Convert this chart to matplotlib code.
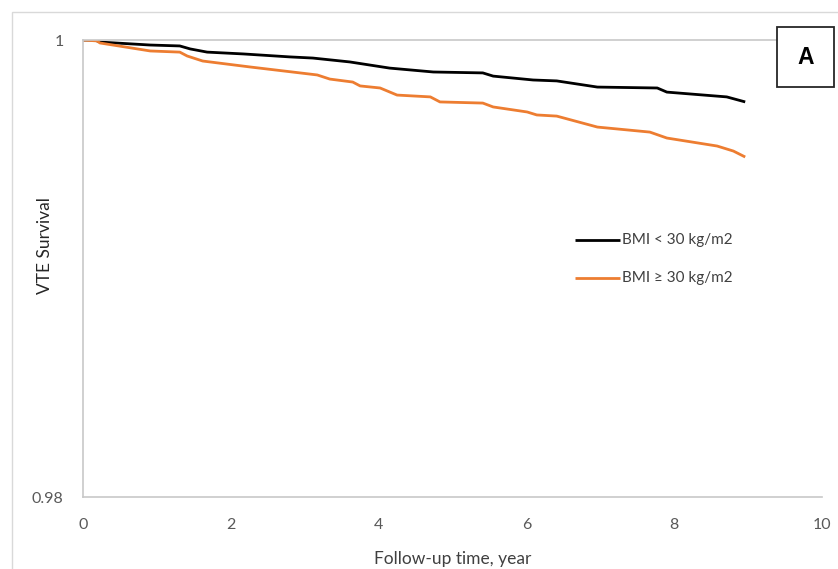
import matplotlib.pyplot as plt
from matplotlib.patches import Rectangle

plt.rcParams['font.family'] = ['Lato', 'DejaVu Sans']

# Kaplan-Meier curve points (years, survival probability)
years_low = [0.0, 0.16, 0.23, 0.91, 1.31, 1.45, 1.68, 2.17, 2.80, 3.11, 3.61,
             4.15, 4.29, 4.74, 5.41, 5.55, 6.09, 6.41, 6.96, 7.77, 7.90, 8.71, 8.96]
surv_low = [1.0, 1.0, 0.99991, 0.99978, 0.99974, 0.99961, 0.99947, 0.99939,
            0.99926, 0.99921, 0.99904, 0.99877, 0.99873, 0.99860, 0.99856,
            0.99842, 0.99825, 0.99821, 0.99794, 0.99790, 0.99772, 0.99751, 0.99729]

years_high = [0.0, 0.19, 0.23, 0.91, 1.31, 1.41, 1.62, 2.26, 3.17, 3.34, 3.65,
              3.75, 4.02, 4.25, 4.70, 4.83, 5.41, 5.55, 6.01, 6.14, 6.41, 6.96,
              7.67, 7.90, 8.58, 8.80, 8.96]
surv_high = [1.0, 0.99996, 0.99987, 0.99952, 0.99947, 0.99930, 0.99908, 0.99882,
             0.99847, 0.99829, 0.99816, 0.99799, 0.99790, 0.99759, 0.99751,
             0.99729, 0.99724, 0.99707, 0.99685, 0.99672, 0.99667, 0.99619,
             0.99597, 0.99571, 0.99536, 0.99514, 0.99488]

label_low = 'BMI < 30 kg/m2'
label_high = 'BMI \u2265 30 kg/m2'

x_ticks = [0, 2, 4, 6, 8, 10]
y_ticks = [0.98, 1.0]
y_tick_labels = ['0.98', '1']

W, H = 838, 569
fig = plt.figure(figsize=(W / 100, H / 100), dpi=100)
ax = fig.add_axes([0.099, 0.1265, 0.882, 0.8032])

# outer chart frame
fig.patches.append(Rectangle((12 / W, -0.05), 1.1, (557 / H) + 0.05,
                             transform=fig.transFigure, fill=False,
                             edgecolor='#d9d9d9', linewidth=1.0))

ax.plot(years_low, surv_low, color='black', linewidth=2.0, solid_capstyle='butt')
ax.plot(years_high, surv_high, color='#ed7d31', linewidth=2.0, solid_capstyle='butt')

ax.set_xlim(0, 10)
ax.set_ylim(0.98, 1.0)
ax.set_xticks(x_ticks)
ax.set_yticks(y_ticks)
ax.set_yticklabels(y_tick_labels)
ax.tick_params(length=0, labelsize=11.5, colors='#595959')
ax.tick_params(axis='x', pad=15)
ax.tick_params(axis='y', pad=14)

for side in ['left', 'bottom', 'top']:
    ax.spines[side].set_color('#c8c8c8')
    ax.spines[side].set_linewidth(1.2)
ax.spines['right'].set_visible(False)

ax.set_xlabel('Follow-up time, year', fontsize=12.5, color='#404040', labelpad=14)
ax.set_ylabel('VTE Survival', fontsize=12.5, color='#262626')
ax.yaxis.set_label_coords(-0.041, 0.55)

# legend drawn by hand in the middle-right of the chart
leg_x0, leg_x1 = 6.66, 7.27
for y, col, txt in [(0.99125, 'black', label_low), (0.98958, '#ed7d31', label_high)]:
    ax.plot([leg_x0, leg_x1], [y, y], color=col, linewidth=2.0,
            solid_capstyle='butt')
    ax.text(leg_x1 + 0.02, y, txt, fontsize=11, color='#404040',
            va='center', ha='left')

# panel label
fig.patches.append(Rectangle((777 / W, 1 - 87 / H), 57 / W, 60 / H,
                             transform=fig.transFigure, facecolor='white',
                             edgecolor='#262626', linewidth=1.3))
fig.text(805.5 / W, 1 - 57 / H, 'A', fontsize=16.5, fontweight='bold',
         ha='center', va='center', family='Liberation Sans')

fig.savefig('out.png', dpi=100)
